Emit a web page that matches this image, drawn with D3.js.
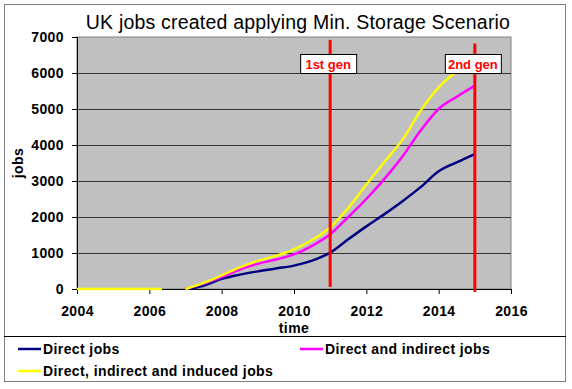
<!DOCTYPE html>
<html>
<head>
<meta charset="utf-8">
<script src="https://cdn.jsdelivr.net/npm/d3@7"></script>
<style>
  body { margin: 0; background: #fff; }
  text { font-family: Arial, "Liberation Sans", sans-serif; }
</style>
</head>
<body>
<svg id="chart" width="572" height="389"></svg>
<script>
// data
const years = [2007, 2007.5, 2008, 2008.5, 2009, 2009.5, 2010, 2010.5, 2011, 2011.5, 2012, 2012.5, 2013, 2013.5, 2014, 2014.5, 2015];
const directJobs = [0, 90, 280, 400, 490, 570, 650, 790, 1010, 1380, 1740, 2080, 2440, 2830, 3270, 3520, 3750];
const indirectJobs = [0, 150, 330, 540, 700, 820, 960, 1200, 1520, 2000, 2500, 3060, 3680, 4400, 5000, 5340, 5650];
const inducedJobs = [0, 170, 380, 600, 780, 920, 1100, 1360, 1710, 2250, 2900, 3530, 4150, 4950, 5600, 6050, 6400];
// flat zero run at the start of the induced series
const leadYears = [2004, 2006.35];
const leadJobs = [0, 0];

const seriesNames = ['Direct jobs', 'Direct and indirect jobs', 'Direct, indirect and induced jobs'];
const seriesColors = ['#000080', '#ff00ff', '#ffff00'];

const genLabels = ['1st gen', '2nd gen'];
const genYears = [2011, 2015];
const genTop = [6920, 6820];
const genBottom = [60, -80];

const yTicks = [0, 1000, 2000, 3000, 4000, 5000, 6000, 7000];
const xTicks = [2004, 2006, 2008, 2010, 2012, 2014, 2016];

const svg = d3.select('#chart');

const x = d3.scaleLinear().domain([2004, 2016]).range([77, 511]);
const y = d3.scaleLinear().domain([0, 7000]).range([289, 37]);

const boldText = sel => sel
    .style('font-size', '14px')
    .style('font-weight', 'bold')
    .style('letter-spacing', '0.4px');

// outer frame
svg.append('rect')
    .attr('x', 4.5).attr('y', 4.5)
    .attr('width', 561).attr('height', 377)
    .attr('fill', '#fff')
    .attr('stroke', '#808080');

svg.append('text')
    .attr('x', 298).attr('y', 29)
    .attr('text-anchor', 'middle')
    .style('font-size', '19.5px')
    .style('letter-spacing', '0.2px')
    .text('UK jobs created applying Min. Storage Scenario');

// plot area
svg.append('rect')
    .attr('x', x(2004)).attr('y', y(7000))
    .attr('width', x(2016) - x(2004)).attr('height', y(0) - y(7000))
    .attr('fill', '#c0c0c0')
    .attr('stroke', '#808080');

svg.append('g')
    .selectAll('line')
    .data(yTicks.filter(d => d > 0 && d < 7000))
    .join('line')
    .attr('x1', x(2004)).attr('x2', x(2016))
    .attr('y1', d => y(d) + 0.5).attr('y2', d => y(d) + 0.5)
    .attr('stroke', '#333')
    .attr('stroke-width', 1);

// axes
const yAxis = d3.axisLeft(y).tickValues(yTicks).tickFormat(d3.format('d')).tickSize(5).tickPadding(8);
const gy = svg.append('g')
    .attr('transform', `translate(${x(2004)},0)`)
    .call(yAxis);

const xAxis = d3.axisBottom(x).tickValues(xTicks).tickFormat(d3.format('d')).tickSize(5).tickPadding(12);
const gx = svg.append('g')
    .attr('transform', `translate(0,${y(0)})`)
    .call(xAxis);

[gx, gy].forEach(g => {
    g.select('.domain').attr('stroke', '#000');
    g.selectAll('.tick line').attr('stroke', '#000');
    g.selectAll('text')
        .attr('fill', '#000')
        .style('font-family', 'Arial, "Liberation Sans", sans-serif')
        .call(boldText);
});

svg.append('text')
    .attr('transform', 'translate(23,163) rotate(-90)')
    .attr('text-anchor', 'middle')
    .call(boldText)
    .text('jobs');

svg.append('text')
    .attr('x', 294).attr('y', 333)
    .attr('text-anchor', 'middle')
    .call(boldText)
    .text('time');

// series lines
const line = d3.line()
    .x(d => x(d[0]))
    .y(d => y(d[1]))
    .curve(d3.curveMonotoneX);

const allSeries = [directJobs, indirectJobs, inducedJobs];

svg.append('path')
    .attr('d', line(leadYears.map((yr, i) => [yr, leadJobs[i]])))
    .attr('fill', 'none')
    .attr('stroke', seriesColors[2])
    .attr('stroke-width', 2.5);

allSeries.forEach((vals, k) => {
    svg.append('path')
        .attr('d', line(years.map((yr, i) => [yr, vals[i]])))
        .attr('fill', 'none')
        .attr('stroke', seriesColors[k])
        .attr('stroke-width', 2.5)
        .attr('stroke-linejoin', 'round');
});

// generation markers
genYears.forEach((yr, i) => {
    svg.append('line')
        .attr('x1', x(yr)).attr('x2', x(yr))
        .attr('y1', y(genTop[i])).attr('y2', y(genBottom[i]))
        .attr('stroke', '#ff0000')
        .attr('stroke-width', 3);

    const bx = x(yr) - 30;
    svg.append('rect')
        .attr('x', bx + 0.5).attr('y', 54.5)
        .attr('width', 56).attr('height', 19)
        .attr('fill', '#fff')
        .attr('stroke', '#000');
    svg.append('text')
        .attr('x', bx + 28).attr('y', 69)
        .attr('text-anchor', 'middle')
        .attr('fill', '#ff0000')
        .style('font-size', '13px')
        .style('font-weight', 'bold')
        .text(genLabels[i]);
});

// legend
svg.append('line')
    .attr('x1', 4).attr('x2', 566)
    .attr('y1', 336.5).attr('y2', 336.5)
    .attr('stroke', '#000');

const legendPos = [[18, 349], [300, 349], [18, 371]];
seriesNames.forEach((name, k) => {
    const [lx, ly] = legendPos[k];
    svg.append('line')
        .attr('x1', lx).attr('x2', lx + 23)
        .attr('y1', ly).attr('y2', ly)
        .attr('stroke', seriesColors[k])
        .attr('stroke-width', 2.5);
    svg.append('text')
        .attr('x', lx + 25).attr('y', ly + 5)
        .call(boldText)
        .text(name);
});
</script>
</body>
</html>
